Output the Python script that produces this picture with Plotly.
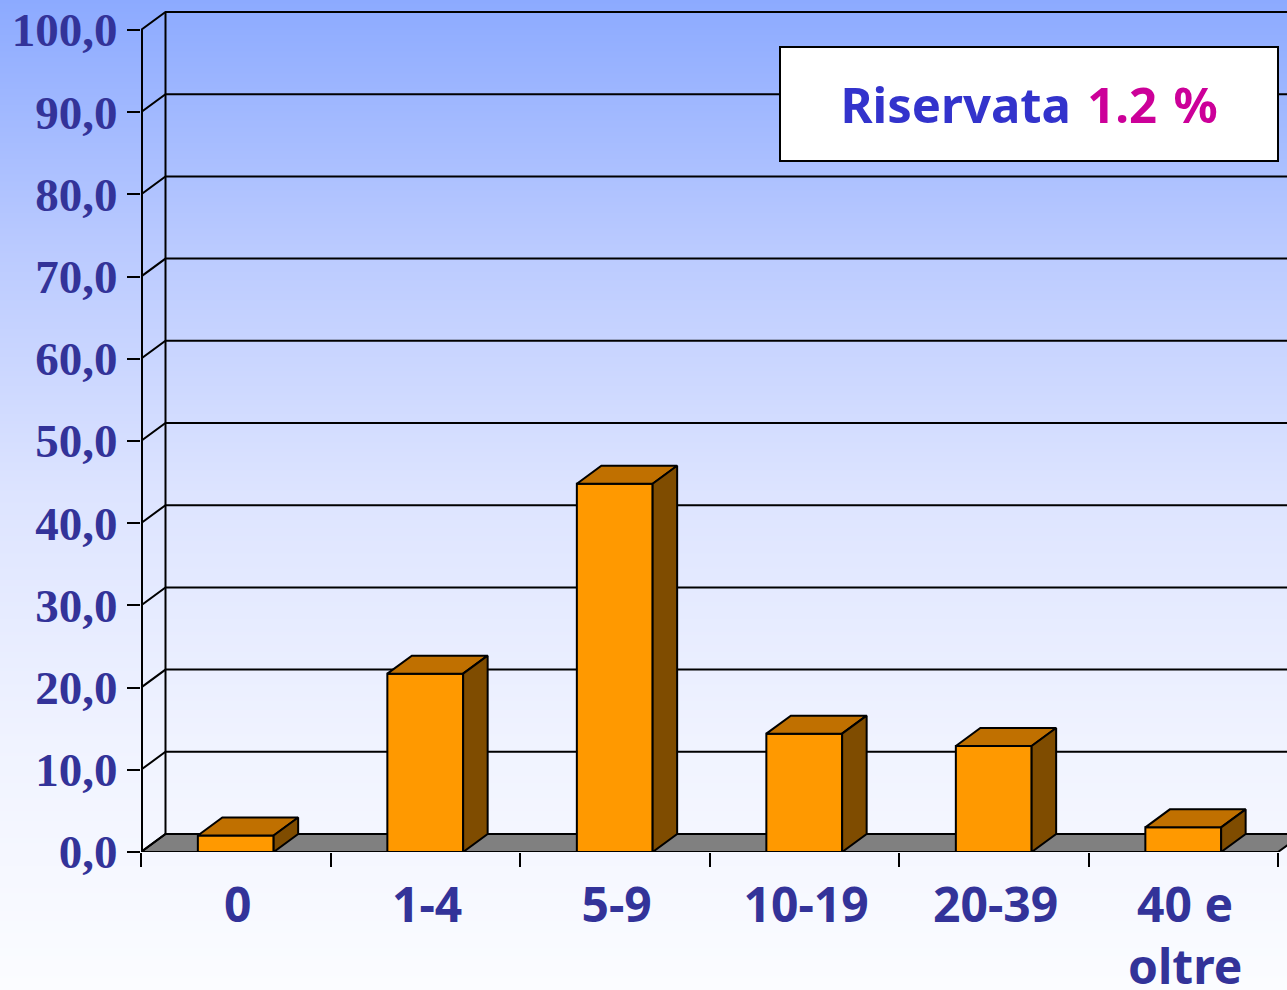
import plotly.graph_objects as go
import zlib, struct, base64

# ---------------- data ----------------
categories = ["0", "1-4", "5-9", "10-19", "20-39", "40 e<br>oltre"]
values = [2.0, 21.7, 44.8, 14.4, 12.9, 3.0]
riservata = 1.2
y_ticks = [0, 10, 20, 30, 40, 50, 60, 70, 80, 90, 100]

# ---------------- geometry ----------------
W, H = 1287, 990
ML, MR, MT, MB = 141, 0, 0, 138
plot_w = W - ML - MR
plot_h = H - MT - MB
PX_PER_CAT = 189.5
PX_PER_UNIT = 8.22
x_range = [-0.5, -0.5 + plot_w / PX_PER_CAT]
y_range = [0, plot_h / PX_PER_UNIT]
DX = 24.5 / PX_PER_CAT
DY = 18.0 / PX_PER_UNIT
HW = 0.2
n = len(categories)

# ---------------- background gradient image ----------------
stops = [(0.0, (140, 170, 255)), (0.25, (186, 202, 255)), (0.5, (221, 228, 255)),
         (0.75, (240, 243, 255)), (1.0, (251, 252, 255))]

def grad(t):
    for (t0, c0), (t1, c1) in zip(stops[:-1], stops[1:]):
        if t <= t1:
            f = (t - t0) / (t1 - t0)
            return tuple(int(round(a + (b - a) * f)) for a, b in zip(c0, c1))
    return stops[-1][1]

def make_png(w, h):
    rows = []
    for yy in range(h):
        c = bytes(grad(yy / (h - 1)))
        rows.append(b"\x00" + c * w)
    raw = b"".join(rows)
    def chunk(t, d):
        return struct.pack(">I", len(d)) + t + d + struct.pack(">I", zlib.crc32(t + d) & 0xffffffff)
    return (b"\x89PNG\r\n\x1a\n" + chunk(b"IHDR", struct.pack(">IIBBBBB", w, h, 8, 2, 0, 0, 0))
            + chunk(b"IDAT", zlib.compress(raw)) + chunk(b"IEND", b""))

bg_uri = "data:image/png;base64," + base64.b64encode(make_png(4, H)).decode()

fig = go.Figure()

# floor
x_last = n - 0.5
fig.add_trace(go.Scatter(
    x=[-0.5, x_last, x_last + DX, -0.5 + DX, -0.5],
    y=[0, 0, DY, DY, 0], mode="lines", fill="toself", fillcolor="#808080",
    line=dict(color="black", width=2), hoverinfo="skip", showlegend=False))

# back-wall gridlines with side-wall diagonals
gx, gy = [], []
for v in y_ticks:
    gx += [-0.5, -0.5 + DX, x_range[1] + 1, None]
    gy += [v, v + DY, v + DY, None]
gx += [-0.5 + DX, -0.5 + DX, None]
gy += [DY, y_ticks[-1] + DY, None]
fig.add_trace(go.Scatter(x=gx, y=gy, mode="lines", line=dict(color="black", width=2),
                         hoverinfo="skip", showlegend=False))

# front y-axis line (front edge of side wall)
fig.add_trace(go.Scatter(x=[-0.5, -0.5], y=[0, y_ticks[-1]], mode="lines",
                         line=dict(color="black", width=4), hoverinfo="skip", showlegend=False))

# bars: front, top, side
fx, fy, tx, ty, sx, sy = [], [], [], [], [], []
for i, v in enumerate(values):
    l, r = i - HW, i + HW
    fx += [l, r, r, l, l, None]; fy += [0, 0, v, v, 0, None]
    tx += [l, r, r + DX, l + DX, l, None]; ty += [v, v, v + DY, v + DY, v, None]
    sx += [r, r + DX, r + DX, r, r, None]; sy += [0, DY, v + DY, v, 0, None]
for xs, ys, col in [(fx, fy, "#FF9900"), (tx, ty, "#C07000"), (sx, sy, "#7F4C00")]:
    fig.add_trace(go.Scatter(x=xs, y=ys, mode="lines", fill="toself", fillcolor=col,
                             line=dict(color="black", width=2), hoverinfo="skip",
                             showlegend=False))

# invisible trace for label axis
fig.add_trace(go.Scatter(x=[0], y=[0], xaxis="x2", mode="markers",
                         marker=dict(opacity=0), hoverinfo="skip", showlegend=False))

label_font = dict(family="Noto Sans, DejaVu Sans, sans-serif", size=48, color="#333399", weight="bold")

fig.update_layout(
    width=W, height=H,
    margin=dict(l=ML, r=MR, t=MT, b=MB, pad=0, autoexpand=False),
    paper_bgcolor="white", plot_bgcolor="rgba(0,0,0,0)",
    separators=", ",
    showlegend=False,
    images=[dict(source=bg_uri, xref="paper", yref="paper",
                 x=-ML / plot_w, y=1 + MT / plot_h,
                 sizex=W / plot_w, sizey=H / plot_h,
                 xanchor="left", yanchor="top", sizing="stretch", layer="below")],
    xaxis=dict(range=x_range, tickvals=[i - 0.5 for i in range(n + 1)],
               ticks="outside", ticklen=14, tickwidth=2, tickcolor="black",
               showticklabels=False, showgrid=False, zeroline=False, showline=False,
               fixedrange=True, automargin=False),
    xaxis2=dict(range=x_range, overlaying="x", anchor="y", side="bottom",
                tickvals=[i + 0.01 for i in range(n)], ticktext=categories,
                ticks="", tickfont=label_font, ticklabelstandoff=21,
                showgrid=False, zeroline=False, showline=False, fixedrange=True,
                automargin=False),
    yaxis=dict(range=y_range, tickvals=y_ticks, tickformat=".1f",
               ticks="outside", ticklen=13, tickwidth=2, tickcolor="black",
               tickfont=dict(family="Liberation Serif, Times New Roman, serif", size=47,
                             color="#333399", weight="bold"),
               ticklabelstandoff=0,
               showgrid=False, zeroline=False, showline=False, fixedrange=True,
               automargin=False),
    annotations=[dict(
        xref="paper", yref="paper",
        x=(1028.5 - ML) / plot_w, y=1 - (103.5 - MT) / plot_h,
        xanchor="center", yanchor="middle", showarrow=False,
        width=496, height=112, bgcolor="white", bordercolor="black", borderwidth=2,
        borderpad=0,
        font=dict(family="Noto Sans, DejaVu Sans, sans-serif", size=49, weight="bold"),
        text=('<span style="color:#3333CC">Riservata</span>\u2004'
              f'<span style="color:#CC0099">{riservata:.1f}\u2004%</span>'))],
)

fig.write_html("out.html", config={"displayModeBar": False},
               post_script="document.body.style.margin='0';")
